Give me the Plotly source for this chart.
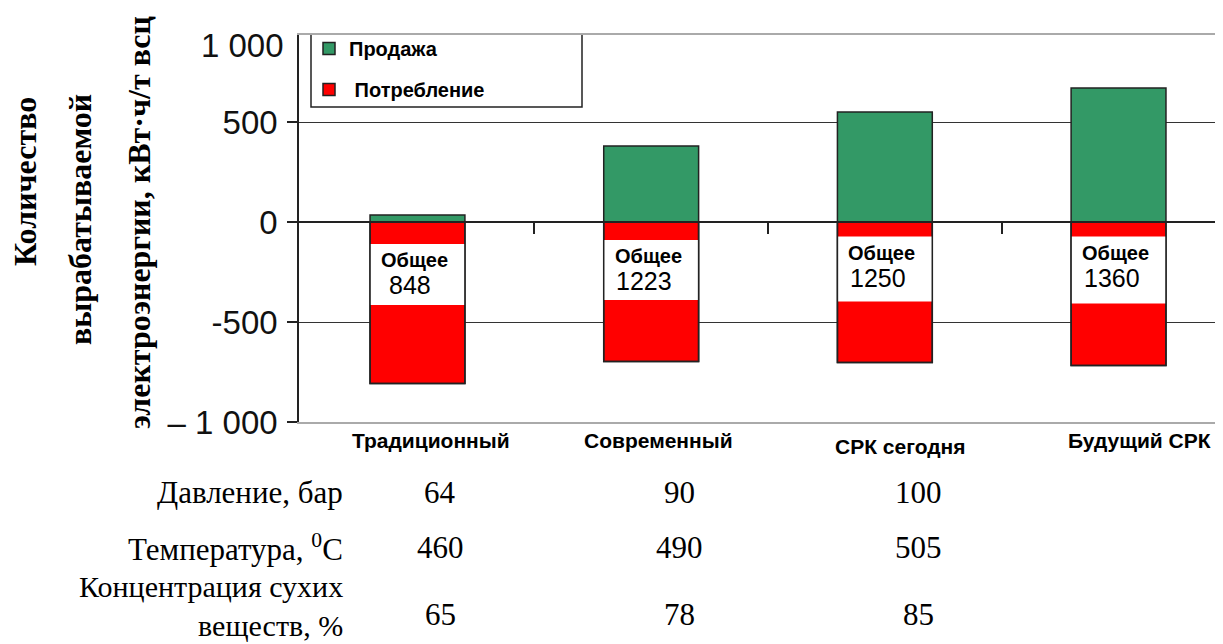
import plotly.graph_objects as go

# ---------------- data ----------------
categories = ["Традиционный", "Современный", "СРК сегодня", "Будущий СРК"]
sale = [35, 380, 550, 670]                 # Продажа, кВт·ч/т всц
consumption = [-807, -698, -703, -718]     # Потребление, кВт·ч/т всц
total_labels = ["848", "1223", "1250", "1360"]
label_box_top = [-110, -90, -73, -73]
label_box_bottom = [-415, -390, -398, -407]

table_rows = ["Давление, бар", "Температура, <sup>0</sup>C", "Концентрация сухих<br>веществ, %"]
pressure = ["64", "90", "100"]
temperature = ["460", "490", "505"]
dry_solids = ["65", "78", "85"]

y_ticks = [-1000, -500, 0, 500]
y_ticktext = ["– 1 000", "-500", "0", "500"]
y_top = 935
y_bottom = -1000

# ---------------- style ----------------
GREEN = "#339966"
RED = "#FF0000"
EDGE = "#222222"
BAR_W = 0.406
OFF = 8                      # page body margin of the html page
W, H = 1223 - OFF, 644 - OFF
ML, MR, MT = 299 - OFF, 0, 35 - OFF
plot_h = 387
MB = H - MT - plot_h
plot_w = W - ML - MR
x_range = [-0.507, 3.447]
SANS = "Liberation Sans, Arial"
SERIF = "Liberation Serif, Times New Roman"


def px_x(p):
    """page pixel x -> paper fraction"""
    return (p - OFF - ML) / plot_w


def px_y(p):
    """page pixel y -> paper fraction"""
    return (MT + plot_h - (p - OFF)) / plot_h


fig = go.Figure()

fig.add_trace(go.Bar(
    x=categories, y=sale, base=0, width=BAR_W, name="Продажа",
    marker=dict(color=GREEN, line=dict(color=EDGE, width=1.5)),
    legendgroup="a", hoverinfo="skip"))

fig.add_trace(go.Bar(
    x=categories, y=consumption, base=0, width=BAR_W, name=" Потребление",
    marker=dict(color=RED, line=dict(color=EDGE, width=1.5)),
    legendgroup="b", hoverinfo="skip"))

fig.add_trace(go.Bar(
    x=categories,
    y=[b - t for t, b in zip(label_box_top, label_box_bottom)],
    base=label_box_top, width=BAR_W, showlegend=False,
    marker=dict(color="white", line=dict(width=0)), hoverinfo="skip"))

fig.add_trace(go.Bar(
    x=categories, y=consumption, base=0, width=BAR_W, showlegend=False,
    marker=dict(color="rgba(0,0,0,0)", line=dict(color=EDGE, width=1.5)),
    hoverinfo="skip"))

# invisible trace so that the zero-line axis (x2) is drawn
fig.add_trace(go.Scatter(x=[None], y=[None], xaxis="x2", yaxis="y",
                         showlegend=False, hoverinfo="skip", mode="markers"))

annotations = []
# labels inside white boxes
for c, t, top in zip(categories, total_labels, label_box_top):
    annotations.append(dict(x=c, y=top, xref="x", yref="y", text="Общее",
                            showarrow=False, yanchor="top", yshift=-3, xshift=-3,
                            font=dict(family=SANS, size=20, color="black", weight="bold")))
    annotations.append(dict(x=c, y=top, xref="x", yref="y", text=t,
                            showarrow=False, yanchor="top", yshift=-25, xshift=-7,
                            font=dict(family=SANS, size=25, color="black")))

# category labels
cat_xshift = [14, 7, 15, 21]
cat_yshift = [0, 0, -6, 0]
for c, dx, dy in zip(categories, cat_xshift, cat_yshift):
    annotations.append(dict(x=c, y=px_y(440), xref="x", yref="paper", text=c,
                            showarrow=False, yanchor="middle", xshift=dx, yshift=dy,
                            font=dict(family=SANS, size=21, color="black", weight="bold")))

# top "1 000" tick label
annotations.append(dict(x=px_x(286), y=px_y(45), xref="paper", yref="paper",
                        text="1 000", showarrow=False, xanchor="right", yanchor="middle",
                        font=dict(family=SANS, size=33, color="#111")))

# y-axis title, three lines
title_lines = ["Количество", "вырабатываемой", "электроэнергии, кВт·ч/т всц"]
title_x = [25, 80, 139]
title_y = [182, 220, 223]
for t, xx, yy in zip(title_lines, title_x, title_y):
    annotations.append(dict(x=px_x(xx), y=px_y(yy), xref="paper", yref="paper",
                            text=t, showarrow=False, textangle=-90,
                            xanchor="center", yanchor="middle",
                            font=dict(family=SERIF, size=32, color="black", weight="bold")))

# table below chart
row_y = [492, 547]
for t, yy in zip(table_rows[:2], row_y):
    annotations.append(dict(x=px_x(345), y=px_y(yy), xref="paper", yref="paper",
                            text=t, showarrow=False, xanchor="right", yanchor="middle",
                            font=dict(family=SERIF, size=31, color="black")))
annotations.append(dict(x=px_x(345), y=px_y(644), xref="paper", yref="paper",
                        text=table_rows[2], showarrow=False, xanchor="right",
                        yanchor="bottom", align="right",
                        font=dict(family=SERIF, size=30, color="black")))

col_xshift = [23, 28, 34]
value_rows = [(pressure, 492), (temperature, 547), (dry_solids, 614)]
for vals, yy in value_rows:
    for c, v, dx in zip(categories, vals, col_xshift):
        annotations.append(dict(x=c, y=px_y(yy), xref="x", yref="paper", text=v,
                                showarrow=False, yanchor="middle", xshift=dx,
                                font=dict(family=SERIF, size=31, color="black")))

# legend frame (open at the top, where it meets the plot border)
lx0, lx1, ly0, ly1 = px_x(311), px_x(582), px_y(107), px_y(35)
shapes = [dict(type="path", xref="paper", yref="paper",
               path=f"M {lx0},{ly1} L {lx0},{ly0} L {lx1},{ly0} L {lx1},{ly1}",
               line=dict(color=EDGE, width=1.5), layer="above")]

fig.update_layout(
    width=W, height=H,
    margin=dict(l=ML, r=MR, t=MT, b=MB, pad=0, autoexpand=False),
    paper_bgcolor="white", plot_bgcolor="white",
    barmode="overlay",
    showlegend=True,
    legend=dict(x=px_x(309), y=px_y(29), xanchor="left", yanchor="top",
                bgcolor="rgba(0,0,0,0)", borderwidth=0, tracegroupgap=12,
                font=dict(family=SANS, size=20, color="black", weight="bold")),
    xaxis=dict(range=x_range, type="category", showticklabels=False, ticks="",
               showgrid=False, showline=True, linecolor="#aaaaaa", linewidth=2,
               mirror=True, zeroline=False, automargin=False),
    xaxis2=dict(overlaying="x", anchor="free",
                position=(0 - y_bottom) / (y_top - y_bottom),
                range=x_range, type="linear",
                tickvals=[0.5, 1.5, 2.5], ticks="outside", ticklen=11,
                tickcolor=EDGE, tickwidth=1.5, showticklabels=False,
                showline=True, linecolor=EDGE, linewidth=1.5,
                showgrid=False, zeroline=False, automargin=False),
    yaxis=dict(range=[y_bottom, y_top], tickvals=y_ticks, ticktext=y_ticktext,
               ticks="outside", ticklen=10, tickcolor=EDGE, tickwidth=1.5,
               showline=True, linecolor=EDGE, linewidth=1.5,
               showgrid=True, gridcolor="#333333", gridwidth=1.2,
               zeroline=False, ticklabelstandoff=3, automargin=False,
               tickfont=dict(family=SANS, size=33, color="#111")),
    annotations=annotations,
    shapes=shapes,
)

fig.write_html("out.html")
